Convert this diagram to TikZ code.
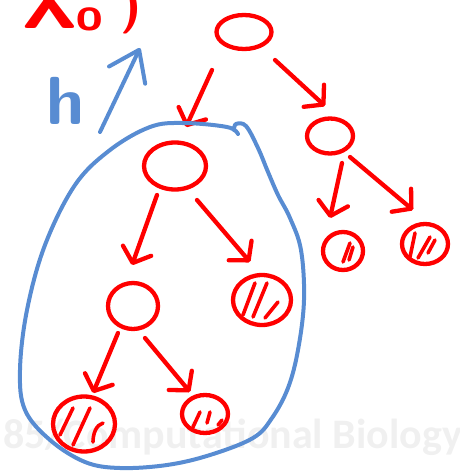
\documentclass[tikz,border=0pt]{standalone}
\usepackage{fontspec}
\newfontfamily\wmfont{Carlito}
\usetikzlibrary{shapes.geometric,arrows.meta,calc}
\definecolor{pen}{RGB}{255,0,0}
\definecolor{bluepen}{RGB}{88,140,210}
\definecolor{wm}{RGB}{240,240,240}
\begin{document}
\begin{tikzpicture}[x=1pt,y=-1pt,
  redline/.style={draw=pen, line width=4.3pt, line cap=round, line join=round},
  blueline/.style={draw=bluepen, line width=4pt, line cap=round, line join=round},
  nd/.style={ellipse, redline, inner sep=0pt},
  arr/.style={redline, -{Straight Barb[round,length=13pt,width=30pt]}},
  barr/.style={blueline, -{Straight Barb[round,length=28pt,width=40pt]}},
  hatch/.style={draw=pen, line width=3.6pt, line cap=round}]
\useasboundingbox (0,0) rectangle (460,474);
% watermark
\node[anchor=base east, inner sep=0pt, text=wm, font=\wmfont\bfseries\fontsize{42}{42}\selectfont] (wmark) at (462,448) {85/Computational Biology};
% label at top left
\node[anchor=base, inner sep=0pt, text=pen, font=\sffamily\bfseries\fontsize{75}{75}\selectfont] (lx) at (50,28) {X};
\node[anchor=base, inner sep=0pt, text=pen, font=\sffamily\bfseries\fontsize{48}{48}\selectfont] (lo) at (90,30) {o};
\node[anchor=base, inner sep=0pt, text=pen, font=\sffamily\bfseries\fontsize{50}{50}\selectfont] (lp) at (131,21) {)};
% blue h and arrow
\node[anchor=base, inner sep=0pt, text=bluepen, font=\sffamily\bfseries\fontsize{68}{68}\selectfont] (hh) at (66,124) {h};
\coordinate (ha) at (100,132);
\coordinate (hb) at (140,48);
\draw[barr] (ha) -- (hb);
% nodes
\node[nd, minimum width=55pt, minimum height=34pt] (root) at (244,32) {};
\node[nd, minimum width=46pt, minimum height=35pt] (rc) at (330,136) {};
\node[nd, minimum width=40pt, minimum height=38pt] (leafRa) at (343,251) {};
\node[nd, minimum width=46pt, minimum height=40pt] (leafRb) at (425,244) {};
\node[nd, minimum width=62pt, minimum height=47pt] (lc) at (175,166) {};
\node[nd, minimum width=58pt, minimum height=50pt] (leafM) at (262,300) {};
\node[nd, minimum width=50pt, minimum height=46pt] (n2) at (133,306) {};
\node[nd, minimum width=62pt, minimum height=55pt] (leafL) at (84,424) {};
\node[nd, minimum width=46pt, minimum height=38pt] (leafS) at (205,414) {};
% hatches
\begin{scope}[shift={(leafRa)}]
  \draw[hatch] (7,-8) -- (0,11);
  \draw[hatch] (10,-4) -- (6,9);
\end{scope}
\begin{scope}[shift={(leafRb)}]
  \draw[hatch] (-10,-11) -- (-15,13);
  \draw[hatch] (5,-7) -- (-7,14);
  \draw[hatch] (10,-4) -- (3,9);
\end{scope}
\begin{scope}[shift={(leafM)}]
  \draw[hatch] (-7,-17) -- (-19,15);
  \draw[hatch] (5,-17) -- (-9,17);
  \draw[hatch] (16,2) -- (3,18);
\end{scope}
\begin{scope}[shift={(leafL)}]
  \draw[hatch] (-11,-16) -- (-24,11);
  \draw[hatch] (6,-16) -- (-11,21);
  \draw[hatch] (19,-1) .. controls (12,1) and (9,10) .. (9,18);
\end{scope}
\begin{scope}[shift={(leafS)}]
  \draw[hatch] (-5,-2) -- (-12,13);
  \draw[hatch] (5,-2) -- (2,9);
  \draw[hatch] (17,6) -- (13,11);
\end{scope}
% connectors
\draw[arr] ($(root)+(-32,38)$) -- ($(lc)+(11,-39)$);
\draw[arr] ($(root)+(31,28)$) -- ($(rc)+(-5,-30)$);
\draw[arr] ($(rc)+(12,27)$) -- ($(leafRa)+(-13,-33)$);
\draw[arr] ($(rc)+(20,21)$) -- ($(leafRb)+(-12,-34)$);
\draw[arr] ($(lc)+(22,34)$) -- ($(leafM)+(-12,-38)$);
\draw[arr] ($(lc)+(-18,29)$) -- ($(n2)+(-1,-41)$);
\draw[arr] ($(n2)+(-15,27)$) -- ($(leafL)+(9,-31)$);
\draw[arr] ($(n2)+(12,32)$) -- ($(leafS)+(-15,-22)$);
% blue subtree outline
\draw[blueline] plot[smooth, tension=0.6] coordinates {
  (238,134) (227,127) (183,123) (150,127) (110,150) (75,185) (45,245)
  (27,310) (20,370) (25,410) (50,440) (85,462) (120,468) (167,465)
  (210,455) (253,438) (272,418) (288,388) (298,350) (304,300) (301,250)
  (290,218) (278,195) (268,172) (258,148) (246,126) (236,124) (234,130)};
\end{tikzpicture}
\end{document}
